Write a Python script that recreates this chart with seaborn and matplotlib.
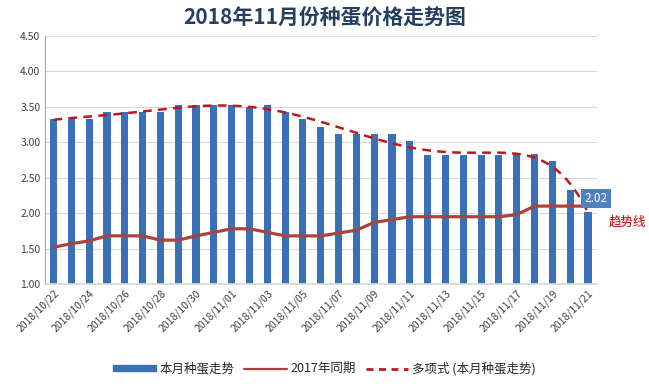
import numpy as np
import pandas as pd
import matplotlib
matplotlib.use("Agg")
import matplotlib.pyplot as plt
import seaborn as sns
from matplotlib.lines import Line2D
from matplotlib.patches import Patch

sns.set_theme(style="white")
plt.rcParams['font.family'] = ['Noto Sans CJK SC', 'DejaVu Sans']

dates = pd.date_range("2018-10-22", "2018-11-21").strftime("%Y/%m/%d").tolist()
this_month = [3.33, 3.33, 3.33, 3.42, 3.42, 3.42, 3.42, 3.52, 3.52, 3.52, 3.52, 3.50, 3.52,
              3.42, 3.33, 3.22, 3.12, 3.12, 3.12, 3.12, 3.02, 2.82, 2.82, 2.82, 2.82, 2.82,
              2.83, 2.84, 2.74, 2.33, 2.02]
last_year = [1.52, 1.57, 1.61, 1.68, 1.68, 1.68, 1.62, 1.62, 1.68, 1.73, 1.78, 1.78, 1.73,
             1.68, 1.68, 1.68, 1.72, 1.76, 1.87, 1.91, 1.95, 1.95, 1.95, 1.95, 1.95, 1.95,
             1.98, 2.10, 2.10, 2.10, 2.10]

df = pd.DataFrame({"date": dates, "price": this_month, "ly": last_year})

fig = plt.figure(figsize=(6.49, 3.86), dpi=100)
ax = fig.add_axes([0.0687, 0.264, 0.851, 0.643])

bar_color = "#3A70B5"
sns.barplot(data=df, x="date", y="price", color=bar_color, width=0.4, ax=ax,
            saturation=1, edgecolor="none")
xi = np.arange(len(dates))
ax.plot(xi, last_year, color="#A9433D", lw=2.3, solid_capstyle="round")

coef = np.polyfit(xi, this_month, 6)
xs = np.linspace(0, len(dates) - 1, 300)
ax.plot(xs, np.polyval(coef, xs), color="#C0161C", lw=1.8, ls=(0, (3.5, 2.5)))

ax.set_xlim(-0.5, len(dates) - 0.5)
ax.set_ylim(1.0, 4.5)
yt = np.arange(1.0, 4.51, 0.5)
ax.set_yticks(yt)
ax.set_yticklabels([f"{v:.2f}" for v in yt], fontsize=7.5, color="#404040")
ax.set_xticks(xi[::2])
ax.set_xticklabels(dates[::2], rotation=45, ha="right", rotation_mode="anchor",
                   fontsize=7.5, color="#404040")
ax.tick_params(axis="both", length=0, pad=3)
ax.set_xlabel("")
ax.set_ylabel("")
ax.yaxis.grid(True, color="#D9D9D9", lw=0.8)
ax.set_axisbelow(True)
for s in ["top", "right"]:
    ax.spines[s].set_visible(False)
ax.spines["left"].set_color("#A6A6A6")
ax.spines["bottom"].set_color("#D9D9D9")
ax.spines["left"].set_linewidth(0.8)

ax.text(len(dates) - 1 + 0.45, 2.21, f"{this_month[-1]:.2f}", color="white", fontsize=8.5,
        ha="center", va="center", clip_on=False,
        bbox=dict(boxstyle="square,pad=0.25", fc="#4F81BD", ec="none"))
ax.text(len(dates) - 1 + 1.15, 1.87, "趋势线", color="#C00000", fontsize=9,
        ha="left", va="center", clip_on=False)

fig.text(0.5, 0.952, "2018年11月份种蛋价格走势图", ha="center", va="center",
         fontsize=15, fontweight="bold", color="#243F60")

handles = [Patch(color=bar_color), Line2D([], [], color="#A9433D", lw=1.6),
           Line2D([], [], color="#C0161C", lw=2, ls=(0, (2.5, 2)))]
labels = ["本月种蛋走势", "2017年同期", "多项式 (本月种蛋走势)"]
fig.legend(handles, labels, loc="center", bbox_to_anchor=(0.5, 0.045), ncol=3,
           frameon=False, fontsize=9, handlelength=3.4, columnspacing=0.8,
           handletextpad=0.3, handleheight=0.4)

fig.savefig("out.png", dpi=100)
